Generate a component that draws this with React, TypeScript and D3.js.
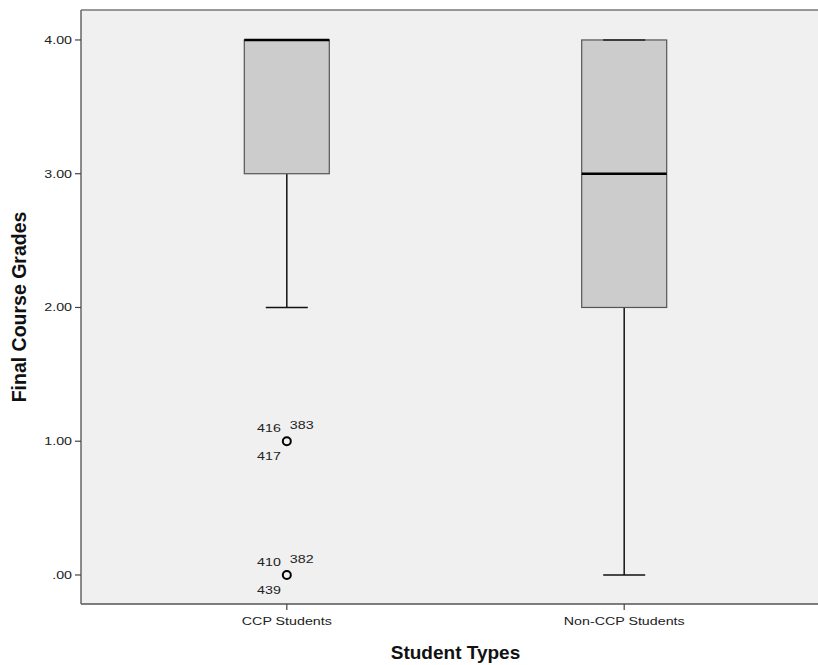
import React from "react";
import * as d3 from "d3";

const categories = ["CCP Students", "Non-CCP Students"];
const mins = [2, 0];
const q1s = [3, 2];
const medians = [4, 3];
const q3s = [4, 4];
const maxs = [4, 4];
// outliers: category index, value, case labels
const outlierCats = [0, 0];
const outlierValues = [1, 0];
const outlierLabels = [
    ["416", "383", "417"],
    ["410", "382", "439"]
];
const yTicks = [0, 1, 2, 3, 4];

const font = "'Liberation Sans', Arial, sans-serif";

// SPSS text looks horizontally stretched, so widen the glyphs a bit
const Label = ({ x, y, anchor = "start", children }: any) => (
    <text
        transform={`translate(${x},${y}) scale(1.24,1)`}
        textAnchor={anchor}
        fontFamily={font}
        fontSize={11.5}
        fill="#222"
    >
        {children}
    </text>
);

const App = () => {
    const width = 818;
    const height = 665;
    const layout = { left: 81, right: 830, top: 10, bottom: 604 };

    const xScale = d3
        .scalePoint<string>()
        .domain(categories)
        .range([layout.left, layout.right])
        .padding(0.61);
    const yScale = d3.scaleLinear().domain([-0.217, 4.224]).range([layout.bottom, layout.top]);

    const boxW = 85;
    const capW = 42;
    const fmt = (v: number) => (v === 0 ? ".00" : d3.format(".2f")(v));

    const boxes = categories.map((c, i) => {
        const cx = xScale(c) as number;
        return (
            <g key={c}>
                <line x1={cx} x2={cx} y1={yScale(q1s[i])} y2={yScale(mins[i])} stroke="#111" strokeWidth={1.5} />
                <line x1={cx - capW / 2} x2={cx + capW / 2} y1={yScale(mins[i])} y2={yScale(mins[i])} stroke="#111" strokeWidth={1.5} />
                <line x1={cx} x2={cx} y1={yScale(q3s[i])} y2={yScale(maxs[i])} stroke="#111" strokeWidth={1.5} />
                <rect
                    x={cx - boxW / 2}
                    y={yScale(q3s[i])}
                    width={boxW}
                    height={yScale(q1s[i]) - yScale(q3s[i])}
                    fill="#cccccc"
                    stroke="#555"
                    strokeWidth={1.2}
                />
                <line x1={cx - capW / 2} x2={cx + capW / 2} y1={yScale(maxs[i])} y2={yScale(maxs[i])} stroke="#222" strokeWidth={1.5} />
                <line
                    x1={cx - boxW / 2}
                    x2={cx + boxW / 2}
                    y1={yScale(medians[i])}
                    y2={yScale(medians[i])}
                    stroke="#000"
                    strokeWidth={2.5}
                />
            </g>
        );
    });

    const outliers = outlierValues.map((v, i) => {
        const cx = xScale(categories[outlierCats[i]]) as number;
        const cy = yScale(v);
        const [a, b, c] = outlierLabels[i];
        return (
            <g key={i}>
                <circle cx={cx} cy={cy} r={4} fill="#f0f0f0" stroke="#000" strokeWidth={2} />
                <Label x={cx - 6} y={cy - 9} anchor="end">{a}</Label>
                <Label x={cx + 3} y={cy - 12}>{b}</Label>
                <Label x={cx - 6} y={cy + 19} anchor="end">{c}</Label>
            </g>
        );
    });

    return (
        <svg width={width} height={height} style={{ position: "absolute", left: 0, top: 0 }}>
            <rect x={0} y={0} width={width} height={height} fill="#fff" />
            <rect
                x={layout.left}
                y={layout.top}
                width={layout.right - layout.left}
                height={layout.bottom - layout.top}
                fill="#f0f0f0"
            />
            <line x1={layout.left} x2={layout.right} y1={layout.top} y2={layout.top} stroke="#777" strokeWidth={1.5} />
            <line x1={layout.left} x2={layout.right} y1={layout.bottom} y2={layout.bottom} stroke="#555" strokeWidth={1.5} />
            <line x1={layout.left} x2={layout.left} y1={layout.top} y2={layout.bottom} stroke="#666" strokeWidth={1.5} />
            {yTicks.map(t => (
                <g key={t}>
                    <line x1={layout.left - 6} x2={layout.left} y1={yScale(t)} y2={yScale(t)} stroke="#444" strokeWidth={1.2} />
                    <Label x={layout.left - 9} y={yScale(t) + 4} anchor="end">{fmt(t)}</Label>
                </g>
            ))}
            {categories.map(c => (
                <g key={c}>
                    <line
                        x1={xScale(c)}
                        x2={xScale(c)}
                        y1={layout.bottom}
                        y2={layout.bottom + 6}
                        stroke="#444"
                        strokeWidth={1.2}
                    />
                    <Label x={xScale(c)} y={layout.bottom + 21} anchor="middle">{c}</Label>
                </g>
            ))}
            {boxes}
            {outliers}
            <text
                x={(layout.left + layout.right) / 2}
                y={659}
                textAnchor="middle"
                fontFamily={font}
                fontSize={19}
                fontWeight="bold"
                fill="#111"
            >
                Student Types
            </text>
            <text
                transform={`translate(26, ${(layout.top + layout.bottom) / 2}) rotate(-90)`}
                textAnchor="middle"
                fontFamily={font}
                fontSize={19.5}
                fontWeight="bold"
                fill="#111"
            >
                Final Course Grades
            </text>
        </svg>
    );
};

export default App;
